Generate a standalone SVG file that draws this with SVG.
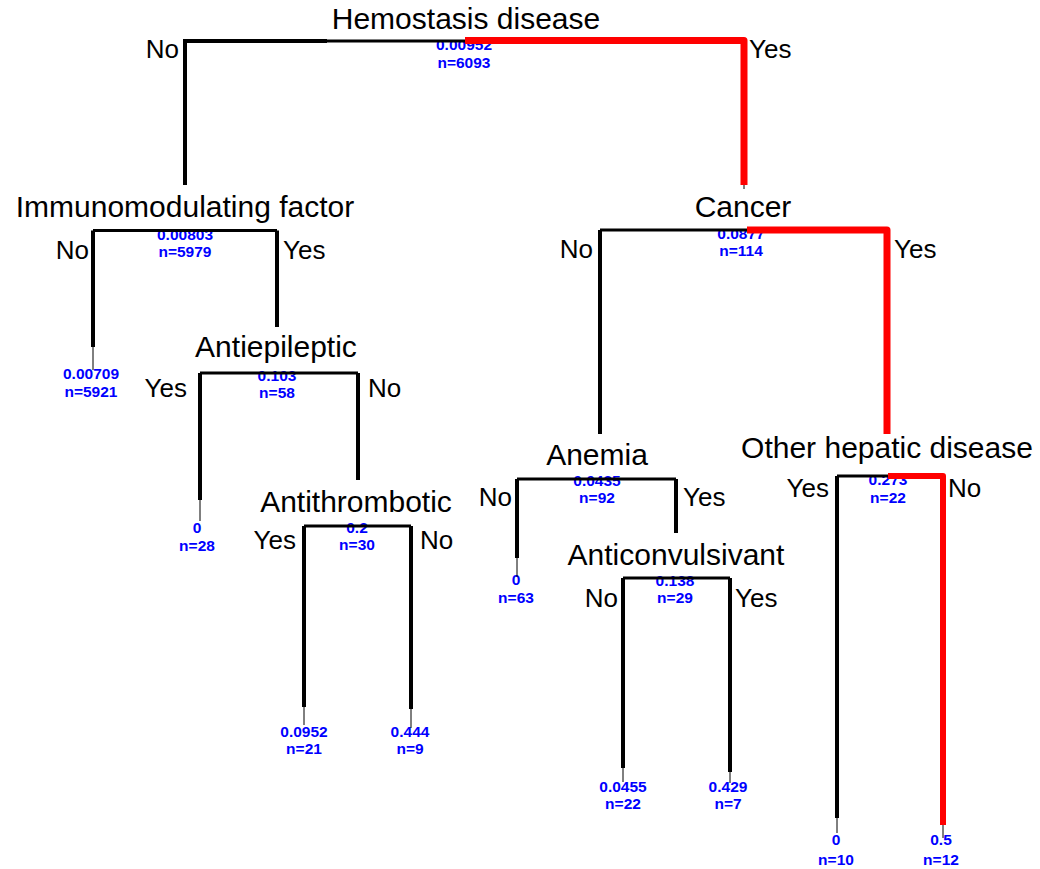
<svg xmlns="http://www.w3.org/2000/svg" width="1040" height="869" viewBox="0 0 1040 869">
<style>
.t{font-family:"Liberation Sans",Arial,sans-serif;font-size:30px;fill:#000;text-anchor:middle}
.l{font-family:"Liberation Sans",Arial,sans-serif;font-size:26px;fill:#000}
.e{text-anchor:end}
.v{font-family:"Liberation Sans",Arial,sans-serif;font-size:15.5px;font-weight:bold;fill:#0000ff;text-anchor:middle}
.k{stroke:#000;stroke-width:4;fill:none}
.kt{stroke:#000;stroke-width:3;fill:none}
.r{stroke:#ff0000;stroke-width:7;fill:none;stroke-linejoin:round}
.th{stroke:#000;stroke-width:1;fill:none}
</style>
<rect width="1040" height="869" fill="#fff"/>
<g id="n-root">
<text class="t" x="466" y="29">Hemostasis disease</text>
<text class="l e" x="179" y="58">No</text>
<text class="l" x="749" y="58">Yes</text>
<text class="v" x="464" y="50">0.00952</text>
<text class="v" x="464" y="68">n=6093</text>
</g>
<g id="n-immuno">
<text class="t" x="185" y="217">Immunomodulating factor</text>
<text class="l e" x="89" y="259">No</text>
<text class="l" x="283" y="259">Yes</text>
<text class="v" x="185" y="240">0.00803</text>
<text class="v" x="185" y="257">n=5979</text>
</g>
<g id="n-antiepileptic">
<text class="t" x="276" y="357">Antiepileptic</text>
<text class="l e" x="187" y="397">Yes</text>
<text class="l" x="368" y="397">No</text>
<text class="v" x="277" y="381">0.103</text>
<text class="v" x="277" y="398">n=58</text>
</g>
<g id="n-antithrombotic">
<text class="t" x="356" y="512">Antithrombotic</text>
<text class="l e" x="296" y="549">Yes</text>
<text class="l" x="420" y="549">No</text>
<text class="v" x="357" y="533">0.2</text>
<text class="v" x="357" y="550">n=30</text>
</g>
<g id="n-cancer">
<text class="t" x="743" y="217">Cancer</text>
<text class="l e" x="593" y="258">No</text>
<text class="l" x="894" y="258">Yes</text>
<text class="v" x="741" y="239">0.0877</text>
<text class="v" x="741" y="256">n=114</text>
</g>
<g id="n-anemia">
<text class="t" x="597" y="465">Anemia</text>
<text class="l e" x="512" y="506">No</text>
<text class="l" x="683" y="506">Yes</text>
<text class="v" x="597" y="486">0.0435</text>
<text class="v" x="597" y="503">n=92</text>
</g>
<g id="n-anticonvulsivant">
<text class="t" x="676" y="565">Anticonvulsivant</text>
<text class="l e" x="618" y="607">No</text>
<text class="l" x="735" y="607">Yes</text>
<text class="v" x="675" y="586">0.138</text>
<text class="v" x="675" y="603">n=29</text>
</g>
<g id="n-hepatic">
<text class="t" x="887" y="458">Other hepatic disease</text>
<text class="l e" x="829" y="497">Yes</text>
<text class="l" x="948" y="497">No</text>
<text class="v" x="888" y="485">0.273</text>
<text class="v" x="888" y="503">n=22</text>
</g>
<g id="leaf-1"><text class="v" x="91" y="379">0.00709</text><text class="v" x="91" y="397">n=5921</text></g>
<g id="leaf-2"><text class="v" x="197" y="533">0</text><text class="v" x="197" y="551">n=28</text></g>
<g id="leaf-3"><text class="v" x="304" y="737">0.0952</text><text class="v" x="304" y="754">n=21</text></g>
<g id="leaf-4"><text class="v" x="410" y="737">0.444</text><text class="v" x="410" y="754">n=9</text></g>
<g id="leaf-5"><text class="v" x="516" y="585">0</text><text class="v" x="516" y="603">n=63</text></g>
<g id="leaf-6"><text class="v" x="623" y="792">0.0455</text><text class="v" x="623" y="809">n=22</text></g>
<g id="leaf-7"><text class="v" x="728" y="792">0.429</text><text class="v" x="728" y="809">n=7</text></g>
<g id="leaf-8"><text class="v" x="836" y="845">0</text><text class="v" x="836" y="865">n=10</text></g>
<g id="leaf-9"><text class="v" x="941" y="845">0.5</text><text class="v" x="941" y="865">n=12</text></g>
<g id="connectors">
<path class="kt" d="M465,41 H327"/>
<path class="k" d="M327,41 H185 V185"/>
<path class="r" d="M465,40.5 H744 V185"/>
<path class="th" d="M744,185 V189"/>
<path class="kt" d="M185,230.5 H93"/>
<path class="k" d="M93,230.5 V347"/>
<path class="th" d="M93,347 V370"/>
<path class="kt" d="M185,230.5 H277"/>
<path class="k" d="M277,230.5 V327"/>
<path class="kt" d="M277,373 H200 M277,373 H358"/>
<path class="k" d="M200,373 V500 M358,373 V480"/>
<path class="th" d="M200,500 V521"/>
<path class="kt" d="M357,526 H304 M357,526 H411"/>
<path class="k" d="M304,526 V707 M411,526 V709"/>
<path class="th" d="M304,707 V725 M411,709 V728"/>
<path class="kt" d="M747,230 H600"/>
<path class="k" d="M600,230 V434"/>
<path class="r" d="M747,230 H887 V434"/>
<path class="kt" d="M597,479 H517 M597,479 H676"/>
<path class="k" d="M517,479 V558 M676,479 V533"/>
<path class="th" d="M517,558 V577"/>
<path class="kt" d="M676,578 H623 M676,578 H730"/>
<path class="k" d="M623,578 V768 M730,578 V772"/>
<path class="th" d="M623,768 V782 M730,772 V783"/>
<path class="kt" d="M888,476 H837"/>
<path class="k" d="M837,476 V818"/>
<path class="th" d="M837,818 V833"/>
<path class="r" style="stroke-width:6" d="M888,476 H943 V825"/>
<path class="th" d="M943,825 V838"/>
</g>
</svg>
